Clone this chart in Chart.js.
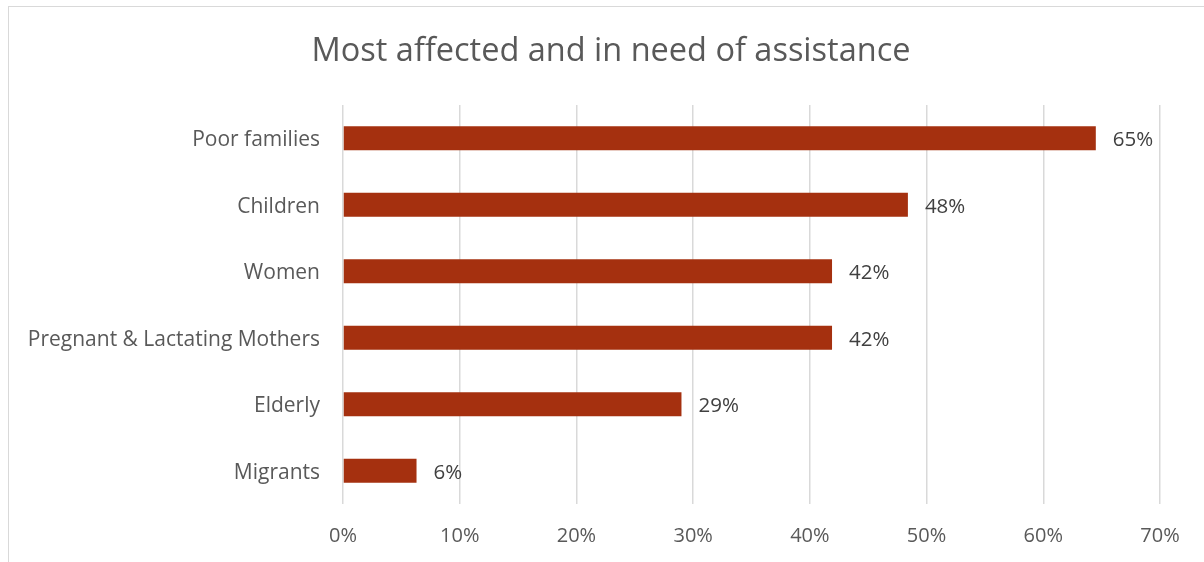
<!DOCTYPE html>
<html>
<head>
<meta charset="utf-8">
<script src="https://cdn.jsdelivr.net/npm/chart.js@4/dist/chart.umd.min.js"></script>
<style>
  html, body { margin: 0; padding: 0; background: #fff; }
  #wrap { position: relative; width: 1204px; height: 562px; }
  #frame { position: absolute; left: 8px; top: 6px; right: -2px; bottom: -2px; border: 1px solid #d9d9d9; }
  canvas { position: absolute; left: 0; top: 0; }
</style>
</head>
<body>
<div id="wrap">
  <div id="frame"></div>
  <canvas id="chart" width="1204" height="562"></canvas>
</div>
<script>
// data
const groups = ["Poor families", "Children", "Women", "Pregnant & Lactating Mothers", "Elderly", "Migrants"];
const shares = [64.5, 48.4, 41.9, 41.9, 29.0, 6.3];
const shareLabels = ["65%", "48%", "42%", "42%", "29%", "6%"];
const xTicks = [0, 10, 20, 30, 40, 50, 60, 70];
const chartTitle = "Most affected and in need of assistance";

const textColor = "#595959";
const fontFamily = "'Open Sans', sans-serif";

// draws the value next to each bar
const barLabels = {
  id: "barLabels",
  afterDatasetsDraw(chart) {
    const ctx = chart.ctx;
    const meta = chart.getDatasetMeta(0);
    ctx.save();
    ctx.font = "20.5px " + fontFamily;
    ctx.fillStyle = "#404040";
    ctx.textAlign = "left";
    ctx.textBaseline = "middle";
    meta.data.forEach((bar, i) => {
      ctx.fillText(shareLabels[i], bar.x + 17, bar.y + 2);
    });
    ctx.restore();
  }
};

// title sits centred on the frame, not on the canvas
const frameTitle = {
  id: "frameTitle",
  afterDraw(chart) {
    const ctx = chart.ctx;
    ctx.save();
    ctx.font = "32.5px " + fontFamily;
    ctx.fillStyle = textColor;
    ctx.textAlign = "center";
    ctx.textBaseline = "middle";
    ctx.fillText(chartTitle, 611, 52);
    ctx.restore();
  }
};

const ctx = document.getElementById("chart").getContext("2d");
new Chart(ctx, {
  type: "bar",
  data: {
    labels: groups,
    datasets: [{
      data: shares,
      backgroundColor: "#a5300f",
      categoryPercentage: 1,
      barPercentage: 0.36
    }]
  },
  options: {
    indexAxis: "y",
    responsive: false,
    animation: false,
    layout: { padding: { left: 0, right: 44, top: 105, bottom: 0 } },
    plugins: {
      legend: { display: false },
      tooltip: { enabled: false },
      title: { display: false }
    },
    scales: {
      x: {
        min: 0,
        max: 70,
        afterBuildTicks(scale) {
          scale.ticks = xTicks.map(v => ({ value: v }));
        },
        afterFit(scale) { scale.height = 58; },
        grid: { color: "#d9d9d9", lineWidth: 1.5, drawTicks: false },
        border: { display: false },
        ticks: {
          color: textColor,
          padding: 20,
          font: { family: fontFamily, size: 20 },
          callback: v => v + "%"
        }
      },
      y: {
        afterFit(scale) { scale.width = 343; },
        grid: { display: false },
        border: { display: false },
        ticks: {
          color: textColor,
          padding: 15,
          labelOffset: 2,
          font: { family: fontFamily, size: 21 }
        }
      }
    }
  },
  plugins: [barLabels, frameTitle]
});
</script>
</body>
</html>
